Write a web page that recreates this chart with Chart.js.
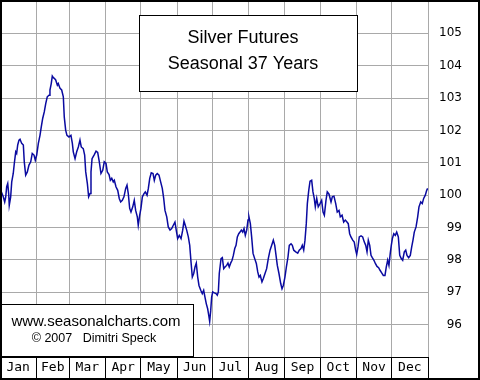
<!DOCTYPE html>
<html>
<head>
<meta charset="utf-8">
<script src="https://cdn.jsdelivr.net/npm/chart.js@4"></script>
<style>
  body { margin: 0; background: #fff; }
  canvas { display: block; }
</style>
</head>
<body>
<canvas id="js-chart" width="480" height="380"></canvas>
<script>
// day of year for every point of the seasonal curve
const DAYS = [
  0.6, 1.4, 2.8, 4.0, 4.9, 5.7, 6.6, 7.4, 7.9, 9.1,
  10.0, 11.3, 12.2, 13.4, 14.2, 15.1, 16.2, 17.1, 18.5, 19.9,
  20.7, 21.9, 23.3, 24.7, 26.2, 27.5, 29.0, 30.1, 31.3, 32.7,
  34.1, 35.2, 36.4, 37.8, 39.0, 40.3, 41.8, 42.6, 43.7, 44.6,
  45.5, 46.3, 47.5, 48.9, 49.7, 51.2, 52.6, 54.0, 54.8, 56.0,
  57.1, 58.8, 60.5, 61.7, 62.5, 64.0, 65.4, 66.8, 68.2, 69.3,
  71.0, 72.2, 73.1, 74.5, 75.6, 76.8, 77.6, 78.5, 80.2, 81.9,
  83.3, 84.7, 86.1, 87.6, 88.9, 90.4, 91.5, 93.0, 94.1, 95.3,
  96.6, 97.5, 98.9, 100.4, 101.7, 102.9, 104.3, 105.7, 107.2, 108.3,
  109.4, 110.6, 111.7, 113.2, 114.5, 115.7, 117.1, 117.9, 119.1, 120.2,
  121.4, 122.8, 123.9, 125.4, 126.5, 127.7, 129.0, 130.5, 131.6, 132.8,
  134.1, 135.6, 137.0, 138.4, 139.6, 140.7, 142.2, 143.5, 145.0, 146.4,
  147.8, 149.2, 150.3, 151.5, 152.9, 154.4, 155.8, 156.9, 158.0, 159.2,
  160.6, 161.8, 162.9, 164.0, 165.2, 166.3, 167.4, 168.6, 169.7, 171.2,
  172.5, 173.7, 174.8, 175.9, 177.1, 178.0, 178.8, 179.7, 180.5, 181.4,
  182.8, 184.2, 185.3, 186.2, 187.0, 188.5, 189.6, 190.8, 191.9, 193.3,
  194.4, 195.5, 196.7, 197.9, 199.0, 200.2, 201.3, 202.4, 203.6, 204.7,
  205.8, 207.0, 208.1, 209.2, 210.4, 211.5, 212.3, 213.5, 214.6, 215.8,
  217.2, 218.6, 219.8, 220.9, 222.0, 223.4, 224.5, 226.0, 227.4, 228.8,
  230.3, 231.7, 233.1, 234.3, 235.4, 236.5, 237.9, 239.4, 240.5, 241.6,
  243.0, 244.2, 245.6, 246.7, 248.2, 249.3, 250.5, 252.2, 253.9, 255.2,
  256.7, 257.8, 259.0, 260.1, 261.2, 262.1, 263.3, 264.4, 265.8, 266.9,
  268.0, 268.9, 270.1, 271.4, 272.9, 274.3, 275.5, 276.6, 278.0, 279.1,
  280.6, 282.3, 283.4, 284.8, 286.3, 287.6, 289.1, 290.2, 291.7, 293.1,
  294.5, 295.9, 297.0, 298.2, 299.3, 300.8, 302.1, 303.3, 304.2, 305.3,
  306.4, 307.9, 309.3, 310.7, 311.9, 313.0, 314.1, 315.3, 316.4, 317.5,
  318.9, 320.1, 321.5, 322.9, 324.1, 325.5, 326.9, 328.3, 329.4, 330.6,
  331.7, 332.8, 333.7, 334.6, 335.8, 337.1, 338.3, 339.7, 340.9, 342.2,
  343.4, 344.8, 346.0, 347.1, 348.5, 349.9, 351.1, 352.2, 353.3, 354.8,
  356.2, 357.3, 358.8, 360.1, 361.3, 362.7, 363.9, 364.7,
];

// seasonal index values
const SEASONAL = [
  100.05, 100.08, 99.95, 99.79, 99.95, 100.26, 100.36, 100.05, 99.69, 99.95,
  100.41, 100.67, 100.98, 101.34, 101.29, 101.55, 101.70, 101.73, 101.60, 101.55,
  101.03, 100.62, 100.72, 100.93, 101.03, 101.29, 101.24, 101.08, 101.24, 101.60,
  101.85, 102.11, 102.37, 102.58, 102.83, 103.04, 103.09, 103.25, 103.45, 103.68,
  103.63, 103.61, 103.56, 103.40, 103.45, 103.30, 103.25, 103.04, 102.42, 102.01,
  101.85, 101.80, 101.85, 101.60, 101.34, 101.13, 101.34, 101.49, 101.70, 101.49,
  101.44, 101.24, 100.72, 100.36, 99.95, 100.05, 100.72, 101.13, 101.24, 101.36,
  101.32, 101.03, 100.67, 100.77, 101.03, 100.98, 100.72, 100.64, 100.46, 100.52,
  100.41, 100.46, 100.26, 100.15, 99.90, 99.79, 99.84, 99.95, 100.21, 100.31,
  100.05, 99.59, 99.48, 99.64, 99.84, 99.53, 99.33, 99.07, 99.38, 99.59,
  99.95, 100.05, 100.10, 100.00, 100.21, 100.52, 100.69, 100.67, 100.46, 100.62,
  100.67, 100.62, 100.41, 100.21, 99.90, 99.53, 99.33, 99.02, 98.92, 98.97,
  99.07, 99.17, 98.92, 98.66, 98.76, 98.66, 98.92, 99.20, 99.07, 98.92,
  98.71, 98.45, 97.94, 97.47, 97.58, 97.78, 97.90, 97.47, 97.21, 97.06,
  96.96, 97.06, 96.85, 96.65, 96.49, 96.29, 96.10, 96.44, 96.85, 97.01,
  96.98, 96.96, 96.91, 97.01, 97.58, 98.04, 98.07, 97.73, 97.78, 97.83,
  97.90, 97.78, 97.90, 97.99, 98.14, 98.35, 98.45, 98.71, 98.81, 98.86,
  98.92, 98.86, 98.97, 98.76, 98.92, 99.23, 99.33, 99.12, 98.71, 98.20,
  98.04, 97.89, 97.63, 97.47, 97.52, 97.32, 97.42, 97.58, 97.73, 98.04,
  98.30, 98.45, 98.61, 98.45, 98.14, 97.83, 97.58, 97.27, 97.11, 97.21,
  97.47, 97.78, 98.09, 98.45, 98.50, 98.45, 98.30, 98.25, 98.21, 98.30,
  98.35, 98.45, 98.30, 98.61, 99.12, 99.74, 100.15, 100.43, 100.46, 100.10,
  99.90, 99.64, 99.90, 99.64, 99.74, 99.84, 99.48, 99.38, 99.84, 100.10,
  100.03, 99.79, 99.95, 99.97, 99.74, 99.48, 99.53, 99.33, 99.38, 99.17,
  99.23, 99.17, 99.12, 98.81, 98.71, 98.61, 98.55, 98.30, 98.17, 98.40,
  98.71, 98.74, 98.71, 98.55, 98.45, 98.25, 98.61, 98.45, 98.14, 98.07,
  97.99, 97.89, 97.80, 97.76, 97.68, 97.60, 97.52, 97.52, 97.78, 97.99,
  97.83, 98.20, 98.45, 98.66, 98.81, 98.76, 98.86, 98.71, 98.14, 98.04,
  97.99, 98.25, 98.30, 98.14, 98.07, 98.14, 98.40, 98.61, 98.86, 99.02,
  99.33, 99.64, 99.79, 99.74, 99.90, 100.00, 100.15, 100.21,
];

// month names and the day each month starts on
const MONTHS = ['Jan', 'Feb', 'Mar', 'Apr', 'May', 'Jun', 'Jul', 'Aug', 'Sep', 'Oct', 'Nov', 'Dec'];
const MONTH_STARTS = [0, 31, 59, 90, 120, 151, 181, 212, 243, 273, 304, 334, 365];

// right axis tick labels
const Y_TICKS = [96, 97, 98, 99, 100, 101, 102, 103, 104, 105];

const TITLE_LINES = ['Silver Futures', 'Seasonal 37 Years'];
const CREDIT_LINES = ['www.seasonalcharts.com', '\u00a9 2007\u00a0\u00a0\u00a0Dimitri Speck'];

const GRID = '#a9a9a9';

// mid-month positions carry the labels, month starts carry the grid
const midMonth = {};
MONTHS.forEach((m, i) => {
  midMonth[(MONTH_STARTS[i] + MONTH_STARTS[i + 1]) / 2] = m;
});
const xTickValues = MONTH_STARTS.concat(Object.keys(midMonth).map(Number)).sort((a, b) => a - b);

// boxes, frame and texts on top of the chart
const overlay = {
  id: 'overlay',
  afterDraw(chart) {
    const ctx = chart.ctx;
    ctx.save();

    // title box
    ctx.fillStyle = '#fff';
    ctx.fillRect(139, 15, 218, 76);
    ctx.strokeStyle = '#000';
    ctx.lineWidth = 1;
    ctx.strokeRect(139.5, 15.5, 218, 76);
    ctx.fillStyle = '#000';
    ctx.textAlign = 'center';
    ctx.textBaseline = 'alphabetic';
    ctx.font = '18px "Liberation Sans", Arial, sans-serif';
    ctx.fillText(TITLE_LINES[0], 243, 43);
    ctx.fillText(TITLE_LINES[1], 243, 69);

    // credit box
    ctx.fillStyle = '#fff';
    ctx.fillRect(0, 304, 193, 52);
    ctx.strokeRect(0.5, 304.5, 193, 52);
    ctx.fillStyle = '#000';
    ctx.font = '15px "Liberation Sans", Arial, sans-serif';
    ctx.fillText(CREDIT_LINES[0], 96, 326);
    ctx.font = '12.5px "Liberation Sans", Arial, sans-serif';
    ctx.fillText(CREDIT_LINES[1], 94, 342);

    // outer frame
    ctx.lineWidth = 2;
    ctx.strokeRect(1, 1, 478, 378);
    ctx.restore();
  },
};

const ctx = document.querySelector('#js-chart').getContext('2d');

new Chart(ctx, {
  type: 'line',
  data: {
    datasets: [
      {
        data: DAYS.map((d, i) => ({ x: d, y: SEASONAL[i] })),
        borderColor: '#0a0aa0',
        borderWidth: 1.5,
        pointRadius: 0,
        tension: 0,
        fill: false,
      },
    ],
  },
  options: {
    responsive: false,
    animation: false,
    events: [],
    // right padding keeps the right-aligned tick labels off the frame
    layout: { padding: { top: 1, left: 0, right: 18, bottom: 0 } },
    plugins: {
      legend: { display: false },
      tooltip: { enabled: false },
    },
    scales: {
      x: {
        type: 'linear',
        position: 'bottom',
        min: 0,
        max: 365,
        afterBuildTicks: axis => {
          axis.ticks = xTickValues.map(v => ({ value: v }));
        },
        afterFit: axis => {
          axis.height = 23;
          axis.paddingLeft = 0;
          axis.paddingRight = 0;
        },
        grid: {
          color: c => (c.tick && midMonth[c.tick.value] ? 'transparent' : GRID),
          tickColor: c => (c.tick && midMonth[c.tick.value] ? 'transparent' : '#000'),
          tickLength: 23,
          lineWidth: 1,
        },
        border: { display: true, color: '#000', width: 1 },
        ticks: {
          autoSkip: false,
          maxRotation: 0,
          padding: -20,
          color: '#000',
          font: { family: '"DejaVu Sans Mono", monospace', size: 13 },
          callback: value => midMonth[value] || '',
        },
      },
      y: {
        position: 'right',
        min: 95,
        max: 106,
        afterBuildTicks: axis => {
          axis.ticks = [95].concat(Y_TICKS, [106]).map(v => ({ value: v }));
        },
        afterFit: axis => {
          axis.width = 34;
          axis.paddingTop = 0;
          axis.paddingBottom = 0;
        },
        grid: {
          color: c => (c.tick && Y_TICKS.includes(c.tick.value) ? GRID : 'transparent'),
          drawTicks: false,
          lineWidth: 1,
        },
        border: { display: false },
        ticks: {
          crossAlign: 'far',
          color: '#000',
          font: { family: '"DejaVu Sans", sans-serif', size: 12 },
          callback: value => (Y_TICKS.includes(value) ? String(value) : ''),
        },
      },
    },
  },
  plugins: [overlay],
});
</script>
</body>
</html>
